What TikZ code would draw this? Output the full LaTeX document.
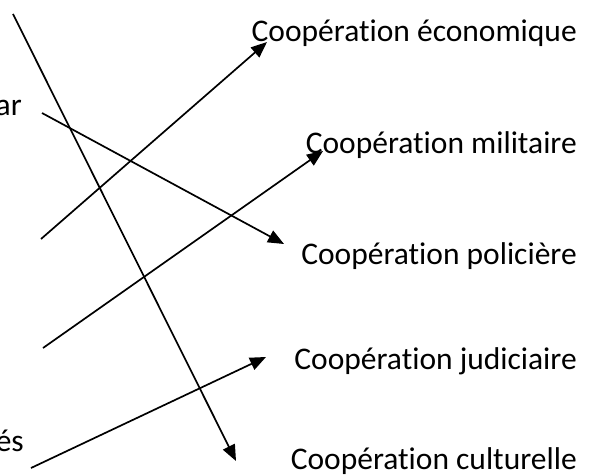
\documentclass[tikz,border=0pt]{standalone}
\usepackage{fontspec}
\setmainfont{Carlito}[RawFeature={-liga;-clig;-calt;-dlig}]
\usetikzlibrary{arrows.meta}

\begin{document}
\begin{tikzpicture}[x=1pt, y=-1pt,
		lien/.style={line width=1.7pt, -{Triangle[length=16pt, width=13pt]}},
		coop/.style={anchor=east, inner sep=0pt, font=\fontsize{31.5}{36}\selectfont}]
		%%%%% START %%%%%
		
		\useasboundingbox (0, 0) rectangle (594, 476);
		
		\node[coop] (eco) at (577, 33) {Coopération économique};
		\node[coop] (mil) at (577, 145) {Coopération militaire};
		\node[coop] (pol) at (577, 256) {Coopération policière};
		\node[coop] (jud) at (577, 361) {Coopération judiciaire};
		\node[coop] (cul) at (577, 461) {Coopération culturelle};
		
		\node[coop] (g1) at (22, 108) {ar};
		\node[coop] (g2) at (24, 441) {és};
		
		\coordinate (d1) at (13, 14);
		\coordinate (d2) at (42, 113);
		\coordinate (d3) at (41, 239);
		\coordinate (d4) at (43, 348);
		\coordinate (d5) at (31, 468);
		
		\coordinate (t1) at (236, 461);
		\coordinate (t2) at (284, 244);
		\coordinate (t3) at (267, 42);
		\coordinate (t4) at (323, 151);
		\coordinate (t5) at (266, 357);
		
		\draw[lien] (d1) -- (t1);
		\draw[lien] (d2) -- (t2);
		\draw[lien] (d3) -- (t3);
		\draw[lien] (d4) -- (t4);
		\draw[lien] (d5) -- (t5);
		
		%%%%% END %%%%%
	\end{tikzpicture}
\end{document}
